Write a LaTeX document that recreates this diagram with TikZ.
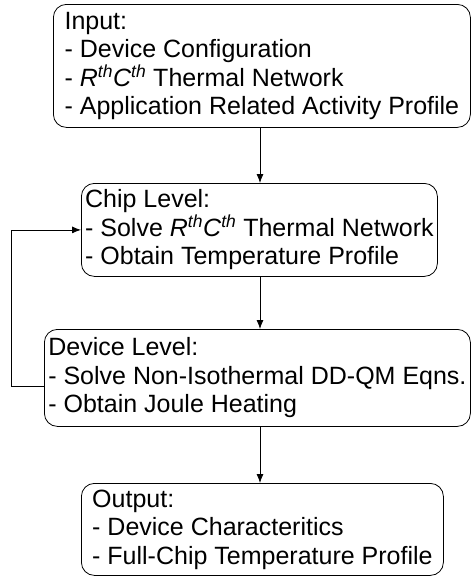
\documentclass[tikz,border=0pt]{standalone}
\usepackage{fontspec}
\setmainfont{Liberation Sans}
\usepackage{tikz}
\usetikzlibrary{arrows.meta,positioning,calc}

\newcommand{\thsup}[1]{\textit{#1}\textsuperscript{\textit{th}}}

\begin{document}
\begin{tikzpicture}[x=1pt,y=-1pt,>={Latex[length=9pt,width=7pt]},
    font=\fontsize{25}{28.5}\selectfont]
    \tikzset{
        stageBox/.style={draw,line width=0.8pt,rounded corners=13pt,align=left,
            anchor=north west,inner sep=0pt},
        flow/.style={->,line width=0.8pt}
    }
    \useasboundingbox (0,0) rectangle (471,576);
    % input data
    \node[stageBox,minimum width=417pt,minimum height=123pt] (input) at (53,4)
        {Input:\\- Device Configuration\\- \thsup{R}\thsup{C} Thermal Network\\- Application Related Activity Profile};
    % chip level solver
    \node[stageBox,minimum width=356pt,minimum height=93pt] (chip) at (81,183)
        {Chip Level:\\- Solve \thsup{R}\thsup{C} Thermal Network\\- Obtain Temperature Profile};
    % device level solver
    \node[stageBox,minimum width=426pt,minimum height=97pt] (dev) at (44,329)
        {Device Level:\\- Solve Non-Isothermal DD-QM Eqns.\\- Obtain Joule Heating};
    % results
    \node[stageBox,minimum width=362pt,minimum height=92pt] (out) at (81,483)
        {Output:\\- Device Characteritics\\- Full-Chip Temperature Profile};
    % main flow
    \coordinate (spine) at (260,0);
    \draw[flow] (input.south -| spine) -- (chip.north -| spine);
    \draw[flow] (chip.south -| spine) -- (dev.north -| spine);
    \draw[flow] (dev.south -| spine) -- (out.north -| spine);
    % feedback loop
    \coordinate (loop) at (11,0);
    \draw[flow] ([yshift=-8pt]dev.west) -| (loop |- chip.west) -- (chip.west);
\end{tikzpicture}
\end{document}
